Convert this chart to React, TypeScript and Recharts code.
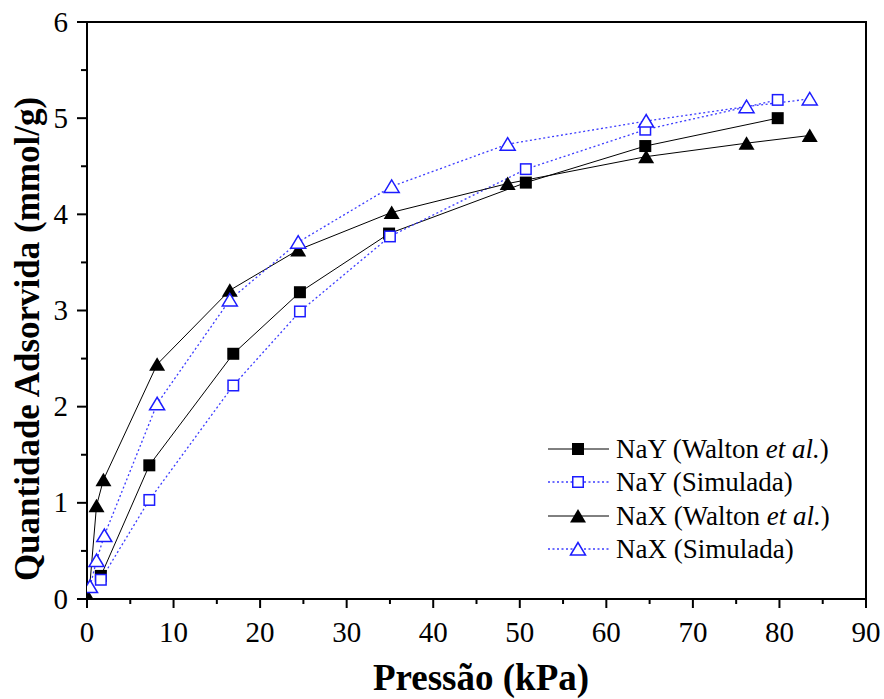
import React from 'react';
import { LineChart, Line, XAxis, YAxis, ReferenceArea, Legend } from 'recharts';

// ---- data ----
const nayWaltonX = [1.6, 7.2, 16.9, 24.6, 34.9, 50.7, 64.5, 79.8];
const nayWaltonY = [0.24, 1.39, 2.55, 3.19, 3.8, 4.33, 4.71, 5.0];
const naySimX = [1.6, 7.2, 16.9, 24.6, 35.0, 50.7, 64.5, 79.8];
const naySimY = [0.2, 1.03, 2.22, 2.99, 3.77, 4.47, 4.88, 5.19];
const naxWaltonX = [0.2, 1.1, 1.9, 8.1, 16.5, 24.4, 35.2, 48.6, 64.6, 76.2, 83.5];
const naxWaltonY = [0.01, 0.97, 1.24, 2.44, 3.21, 3.63, 4.02, 4.32, 4.6, 4.74, 4.82];
const naxSimX = [0.35, 1.1, 2.0, 8.1, 16.5, 24.4, 35.2, 48.6, 64.6, 76.2, 83.5];
const naxSimY = [0.13, 0.4, 0.66, 2.03, 3.11, 3.71, 4.29, 4.73, 4.97, 5.12, 5.2];

const xTicks = [0, 5, 10, 15, 20, 25, 30, 35, 40, 45, 50, 55, 60, 65, 70, 75, 80, 85, 90];
const yTicks = [0, 0.5, 1, 1.5, 2, 2.5, 3, 3.5, 4, 4.5, 5, 5.5, 6];

const xTitle = 'Pressão (kPa)';
const yTitle = 'Quantidade Adsorvida (mmol/g)';

const zip = (xs: number[], ys: number[]) => xs.map((x, i) => ({ x, y: ys[i] }));

const FONT = 'Liberation Serif, Times New Roman, serif';
const fontStyle = { fontFamily: FONT };
const BLUE = '#1c1cff';
const BLUE_LINE = '#3c3cff';

type MarkerKind = 'squareFilled' | 'squareOpen' | 'triFilled' | 'triOpen';

const series: { name: string; italic: boolean; kind: MarkerKind; data: { x: number; y: number }[] }[] = [
  { name: 'NaY (Walton ', italic: true, kind: 'squareFilled', data: zip(nayWaltonX, nayWaltonY) },
  { name: 'NaY (Simulada)', italic: false, kind: 'squareOpen', data: zip(naySimX, naySimY) },
  { name: 'NaX (Walton ', italic: true, kind: 'triFilled', data: zip(naxWaltonX, naxWaltonY) },
  { name: 'NaX (Simulada)', italic: false, kind: 'triOpen', data: zip(naxSimX, naxSimY) },
];

function Marker({ cx, cy, kind }: { cx: number; cy: number; kind: MarkerKind }) {
  if (cx == null || cy == null || isNaN(cx) || isNaN(cy)) return null;
  const s = 6;
  switch (kind) {
    case 'squareFilled':
      return <rect x={cx - s} y={cy - s} width={2 * s} height={2 * s} fill="#000" />;
    case 'squareOpen':
      return <rect x={cx - s + 0.75} y={cy - s + 0.75} width={2 * s - 1.5} height={2 * s - 1.5} fill="#fff" stroke={BLUE} strokeWidth={1.5} />;
    case 'triFilled':
      return <polygon points={`${cx},${cy - 7} ${cx - 8},${cy + 6.5} ${cx + 8},${cy + 6.5}`} fill="#000" />;
    case 'triOpen':
      return <polygon points={`${cx},${cy - 6.5} ${cx - 7.5},${cy + 6} ${cx + 7.5},${cy + 6}`} fill="#fff" stroke={BLUE} strokeWidth={1.5} />;
  }
  return null;
}

const XTick = (props: any) => {
  const { x, y, payload } = props;
  const v = payload.value as number;
  const major = v % 10 === 0;
  return (
    <g>
      <line x1={x} x2={x} y1={y} y2={y + (major ? 9 : 5)} stroke="#000" strokeWidth={2} />
      {major && (
        <text x={x} y={y + 43} textAnchor="middle" style={fontStyle} fontFamily={FONT} fontSize={29} fill="#000">
          {v}
        </text>
      )}
    </g>
  );
};

const YTick = (props: any) => {
  const { x, y, payload } = props;
  const v = payload.value as number;
  const major = Number.isInteger(v);
  return (
    <g>
      <line x1={x} x2={x - (major ? 10 : 6)} y1={y} y2={y} stroke="#000" strokeWidth={2} />
      {major && (
        <text x={x - 19} y={y + 9.5} textAnchor="end" style={fontStyle} fontFamily={FONT} fontSize={29} fill="#000">
          {v}
        </text>
      )}
    </g>
  );
};

const XTitle = () => (
  <text x={481} y={690} textAnchor="middle" style={fontStyle} fontFamily={FONT} fontWeight="bold" fontSize={37} fill="#000">
    {xTitle}
  </text>
);

const YTitle = () => (
  <text
    x={0}
    y={0}
    transform="translate(39,339) rotate(-90)"
    textAnchor="middle"
    style={fontStyle}
    fontFamily={FONT}
    fontWeight="bold"
    fontSize={35}
    fill="#000"
  >
    {yTitle}
  </text>
);

const LegendContent = () => {
  const rowY = [449, 482, 516, 549];
  return (
    <svg width={330} height={140} style={{ overflow: 'visible', position: 'absolute', left: 0, top: 0 }}>
      {series.map((s, i) => {
        const cy = rowY[i] - 430;
        const filled = s.kind === 'squareFilled' || s.kind === 'triFilled';
        return (
          <g key={s.kind}>
            <line
              x1={8}
              x2={69}
              y1={cy}
              y2={cy}
              stroke={filled ? '#000' : BLUE_LINE}
              strokeWidth={filled ? 1 : 1.3}
              strokeDasharray={filled ? undefined : '2 2.5'}
            />
            <Marker cx={38} cy={cy} kind={s.kind} />
            <text x={76} y={cy + 8.5} style={fontStyle} fontFamily={FONT} fontSize={27} fill="#000">
              {s.name}
              {s.italic && <tspan fontStyle="italic">et al.</tspan>}
              {s.italic && <tspan>)</tspan>}
            </text>
          </g>
        );
      })}
    </svg>
  );
};

export default function App() {
  return (
    <div style={{ position: 'absolute', left: 0, top: 0, width: 884, height: 699, background: '#fff', fontFamily: FONT }}>
      <LineChart width={884} height={699} margin={{ top: 22, right: 18, bottom: 0, left: 0 }}>
        <XAxis
          type="number"
          dataKey="x"
          domain={[0, 90]}
          ticks={xTicks}
          interval={0}
          allowDataOverflow
          height={100}
          tickSize={0}
          tickMargin={0}
          tickLine={false}
          tick={<XTick />}
          axisLine={{ stroke: '#000', strokeWidth: 2 }}
          label={<XTitle />}
        />
        <YAxis
          type="number"
          dataKey="y"
          domain={[0, 6]}
          ticks={yTicks}
          interval={0}
          allowDataOverflow
          width={87}
          tickSize={0}
          tickMargin={0}
          tickLine={false}
          tick={<YTick />}
          axisLine={{ stroke: '#000', strokeWidth: 2 }}
          label={<YTitle />}
        />
        <ReferenceArea x1={0} x2={90} y1={0} y2={6} fill="none" fillOpacity={0} stroke="#000" strokeWidth={2} />
        {series.map((s) => {
          const filled = s.kind === 'squareFilled' || s.kind === 'triFilled';
          return (
            <Line
              key={s.kind}
              data={s.data}
              dataKey="y"
              type="linear"
              stroke={filled ? '#000' : BLUE_LINE}
              strokeWidth={filled ? 1 : 1.3}
              strokeDasharray={filled ? undefined : '2 2.5'}
              isAnimationActive={false}
              legendType="none"
              dot={(p: any) => <Marker key={`${s.kind}-${p.index}`} cx={p.cx} cy={p.cy} kind={s.kind} />}
              activeDot={false}
            />
          );
        })}
        <Legend
          content={<LegendContent />}
          wrapperStyle={{ position: 'absolute', left: 540, top: 430, width: 0, height: 0, overflow: 'visible' }}
        />
      </LineChart>
    </div>
  );
}
